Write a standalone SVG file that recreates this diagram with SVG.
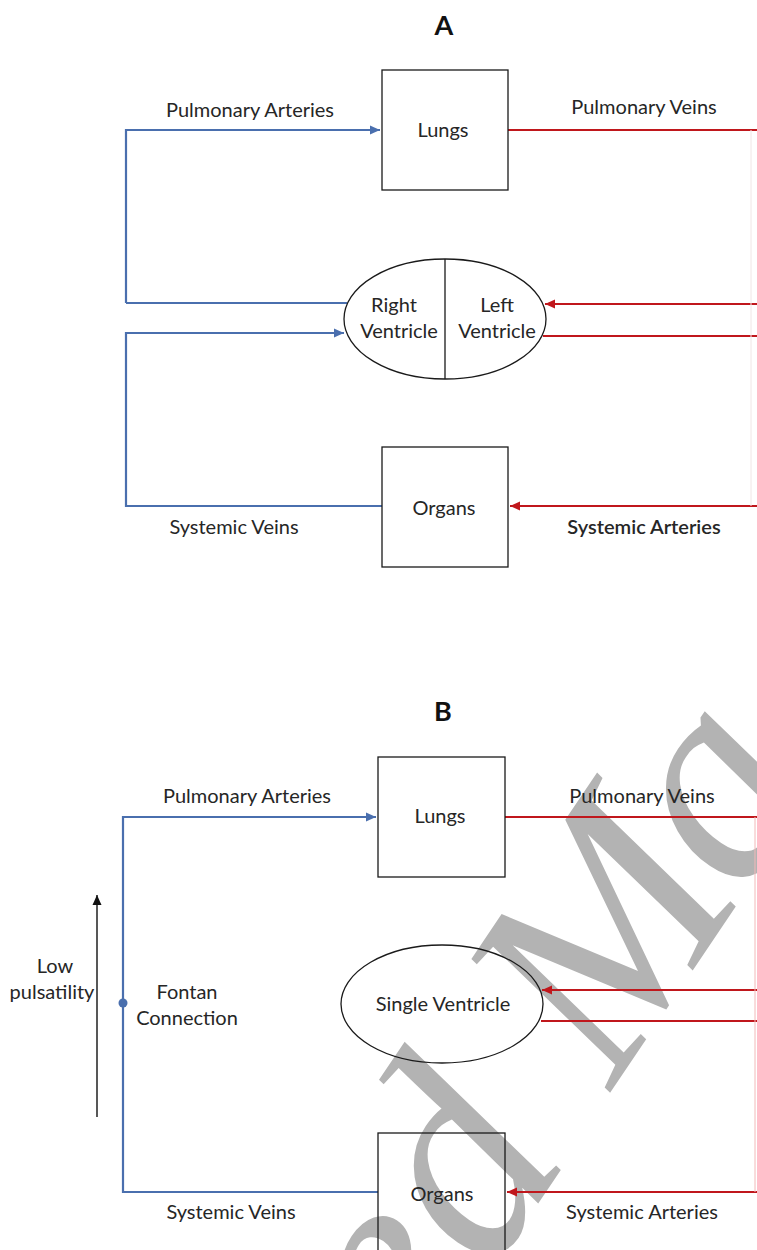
<svg xmlns="http://www.w3.org/2000/svg" width="757" height="1250" viewBox="0 0 757 1250">
<style>
.lbl{font-family:Lato,"Open Sans","Liberation Sans",sans-serif;font-size:20px;fill:#262626;text-anchor:middle}
.ttl{font-family:Lato,"Liberation Sans",sans-serif;font-size:27px;font-weight:bold;fill:#111;text-anchor:middle}
.box{fill:none;stroke:#1a1a1a;stroke-width:1.3}
.blue{fill:none;stroke:#4a6fae;stroke-width:2.2}
.red{fill:none;stroke:#c0171c;stroke-width:2.2}
.wm{font-family:"Liberation Serif",serif;font-style:italic;font-size:290px;fill:#b3b3b3}
</style>
<defs>
<marker id="ab" markerUnits="userSpaceOnUse" markerWidth="12" markerHeight="10" refX="10" refY="5" orient="auto"><path d="M0,0.5 L10,5 L0,9.5 Z" fill="#4a6fae"/></marker>
<marker id="ar" markerUnits="userSpaceOnUse" markerWidth="12" markerHeight="10" refX="10" refY="5" orient="auto"><path d="M0,0.5 L10,5 L0,9.5 Z" fill="#c0171c"/></marker>
<marker id="ak" markerUnits="userSpaceOnUse" markerWidth="12" markerHeight="12" refX="10" refY="5" orient="auto"><path d="M0,0.5 L10,5 L0,9.5 Z" fill="#111"/></marker>
</defs>
<rect width="757" height="1250" fill="#fff"/>
<g id="watermark">
<text class="wm" transform="translate(418,1382) rotate(-56)">e</text>
<text class="wm" transform="translate(490,1275) rotate(-56)">d</text>
<text class="wm" transform="translate(612,1090) rotate(-56)">M</text>
<text class="wm" transform="translate(742,898) rotate(-56)">a</text>
</g>
<text class="ttl" x="444" y="35">A</text>
<text class="ttl" x="443" y="721">B</text>
<g id="connectors">
<path class="blue" d="M126,303 H347 M126,303 V130 H380" marker-end="url(#ab)"/>
<path class="blue" d="M382,506 H126 V333 H344" marker-end="url(#ab)"/>
<path class="red" d="M508,130 H757"/>
<path class="red" d="M757,304 H545" marker-end="url(#ar)"/>
<path class="red" d="M543,336 H757"/>
<path class="red" d="M757,506 H510" marker-end="url(#ar)"/>
<path d="M751,130 V506" stroke="#f0e6e6" stroke-width="1" fill="none"/>
<path class="blue" d="M378,1192 H123 V817 H376" marker-end="url(#ab)"/>
<path class="red" d="M505,817 H757"/>
<path class="red" d="M757,990 H542" marker-end="url(#ar)"/>
<path class="red" d="M541,1021 H757"/>
<path class="red" d="M757,1192 H507" marker-end="url(#ar)"/>
<path d="M755,817 V1192" stroke="#f2b8b8" stroke-width="1" fill="none"/>
<circle cx="123" cy="1003" r="4.5" fill="#4a6fae"/>
<path d="M97,1117 V895" stroke="#111" stroke-width="1.4" fill="none" marker-end="url(#ak)"/>
</g>
<g id="lungsA"><rect class="box" x="382" y="70" width="126" height="120"/><text class="lbl" x="443" y="137">Lungs</text></g>
<g id="ventricles"><ellipse class="box" cx="445" cy="319" rx="101" ry="60"/><line x1="445" y1="259" x2="445" y2="379" stroke="#1a1a1a" stroke-width="1.3"/>
<text class="lbl" x="394" y="312">Right</text><text class="lbl" x="399" y="338">Ventricle</text>
<text class="lbl" x="497" y="312">Left</text><text class="lbl" x="497" y="338">Ventricle</text></g>
<g id="organsA"><rect class="box" x="382" y="447" width="126" height="120"/><text class="lbl" x="444" y="515">Organs</text></g>
<g id="labelsA">
<text class="lbl" x="250" y="117">Pulmonary  Arteries</text>
<text class="lbl" x="644" y="114">Pulmonary Veins</text>
<text class="lbl" x="234" y="534">Systemic Veins</text>
<text class="lbl" x="644" y="534" style="font-weight:600">Systemic Arteries</text>
</g>
<g id="lungsB"><rect class="box" x="378" y="757" width="127" height="120"/><text class="lbl" x="440" y="823">Lungs</text></g>
<g id="singleVentricle"><ellipse class="box" cx="442" cy="1004" rx="101" ry="59"/><text class="lbl" x="443" y="1011">Single Ventricle</text></g>
<g id="organsB"><rect class="box" x="378" y="1133" width="127" height="130"/><text class="lbl" x="442" y="1201">Organs</text></g>
<g id="labelsB">
<text class="lbl" x="247" y="803">Pulmonary  Arteries</text>
<text class="lbl" x="642" y="803">Pulmonary Veins</text>
<text class="lbl" x="231" y="1219">Systemic Veins</text>
<text class="lbl" x="642" y="1219">Systemic Arteries</text>
<text class="lbl" x="55" y="973">Low</text>
<text class="lbl" x="52" y="999">pulsatility</text>
<text class="lbl" x="187" y="999">Fontan</text>
<text class="lbl" x="187" y="1025">Connection</text>
</g>
</svg>
